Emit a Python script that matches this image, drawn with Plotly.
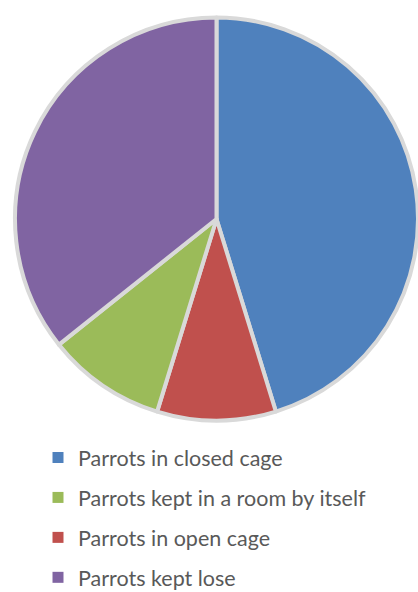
import plotly.graph_objects as go

# Where the parrots are kept (number of owners), drawn clockwise from 12 o'clock
slice_labels = [
    "Parrots in closed cage",
    "Parrots in open cage",
    "Parrots kept in a room by itself",
    "Parrots kept lose",
]
slice_values = [19, 4, 4, 15]

# Legend entries are listed in their own order
legend_labels = [
    "Parrots in closed cage",
    "Parrots kept in a room by itself",
    "Parrots in open cage",
    "Parrots kept lose",
]

palette = {
    "Parrots in closed cage": "#4F81BD",
    "Parrots in open cage": "#C0504D",
    "Parrots kept in a room by itself": "#9BBB59",
    "Parrots kept lose": "#8064A2",
}

W, H = 418, 592

fig = go.Figure()

fig.add_trace(
    go.Pie(
        labels=slice_labels,
        values=slice_values,
        sort=False,
        direction="clockwise",
        rotation=0,
        marker=dict(
            colors=[palette[l] for l in slice_labels],
            line=dict(color="#D9D9D9", width=4),
        ),
        textinfo="none",
        hoverinfo="label+value+percent",
        showlegend=False,
        domain=dict(x=[15 / W, 1], y=[1 - 421 / H, 1 - 17 / H]),
    )
)

# Square legend keys in the legend's own order
for i, lab in enumerate(legend_labels):
    fig.add_trace(
        go.Scatter(
            x=[None],
            y=[None],
            mode="markers",
            name=lab,
            legendgroup=f"g{i}",
            marker=dict(symbol="square", size=11, color=palette[lab]),
        )
    )

fig.update_layout(
    width=W,
    height=H,
    margin=dict(l=0, r=0, t=0, b=0, autoexpand=False),
    paper_bgcolor="white",
    plot_bgcolor="white",
    xaxis=dict(visible=False),
    yaxis=dict(visible=False),
    font=dict(family="Lato, 'Open Sans', sans-serif", color="#595959"),
    legend=dict(
        x=38 / W,
        xanchor="left",
        y=1 - 437 / H,
        yanchor="top",
        orientation="v",
        traceorder="grouped",
        tracegroupgap=9,
        font=dict(size=21.5, color="#595959"),
        bgcolor="rgba(0,0,0,0)",
        itemclick=False,
    ),
)

fig.write_html("out.html")
